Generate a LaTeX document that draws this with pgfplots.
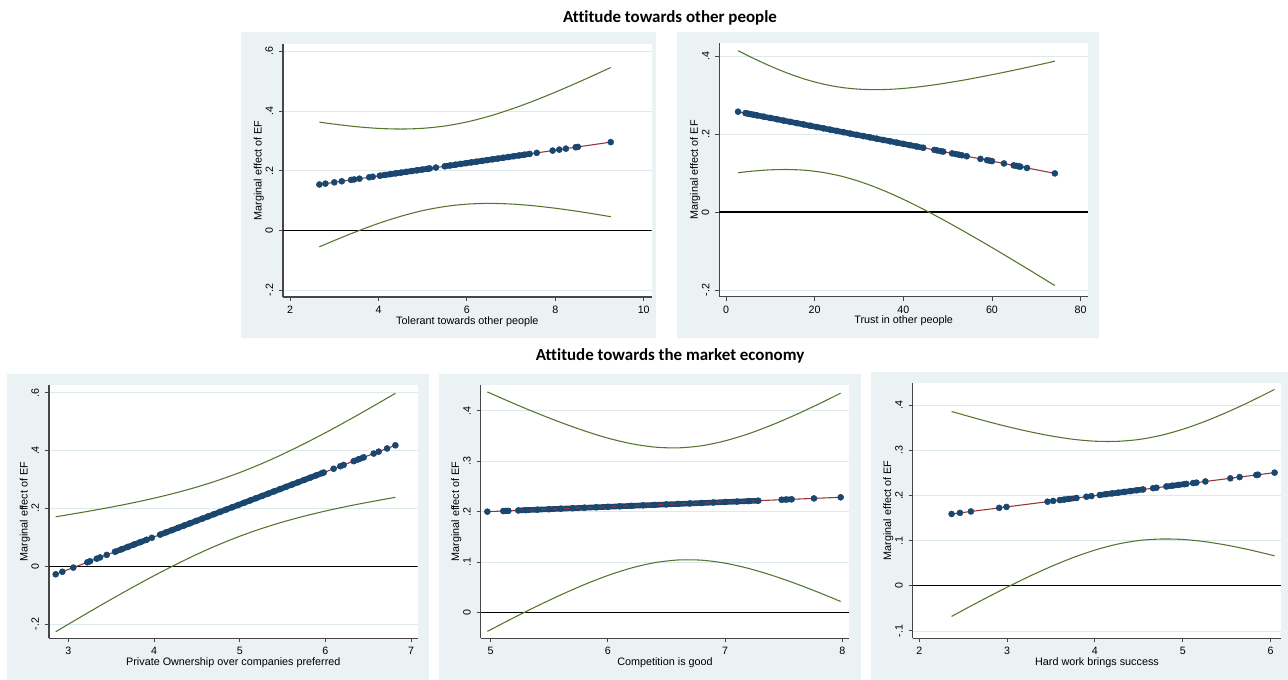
\documentclass[border=0pt]{standalone}
\usepackage{fontspec}
\setmainfont{Liberation Sans}
\newfontfamily\calibri[Ligatures={NoCommon,NoRare,NoContextual}]{Carlito}
\usepackage{pgfplots}
\pgfplotsset{compat=1.18}
\definecolor{bgc}{RGB}{234,242,243}
\definecolor{gridc}{RGB}{222,233,237}
\definecolor{navy}{RGB}{26,71,111}
\definecolor{maroon}{RGB}{150,50,58}
\definecolor{fgreen}{RGB}{85,117,47}
\definecolor{axc}{RGB}{70,70,70}
\pgfplotsset{
  stata/.style={
    scale only axis, width=276.5pt, height=190pt,
    anchor=south west,
    axis lines*=left, axis line style={-, draw=axc, line width=0.9pt},
    tick align=outside, major tick length=3pt, tick style={draw=axc, line width=0.7pt},
    axis background/.style={fill=white},
    ymajorgrids, grid style={draw=gridc, line width=0.6pt},
    /pgf/number format/assume math mode=true,
    tick label style={font=\fontsize{8}{9}\selectfont},
    xticklabel style={inner sep=0pt, anchor=north},
    yticklabel style={rotate=90, anchor=south, inner sep=0pt},
    xticklabel shift=3.5pt, yticklabel shift=4.3pt,
    xlabel style={font=\fontsize{8.1}{9}\selectfont, at={(axis description cs:0.5,-0.075)}, anchor=north, inner sep=0pt},
    ylabel style={font=\fontsize{8.1}{9}\selectfont, at={(axis description cs:-0.0515,0.5)}, anchor=south, inner sep=0pt},
    ylabel={Marginal effect of EF},
  },
  dots/.style={only marks, mark=*, mark size=2.25pt, mark options={fill=navy, draw=navy}, color=navy},
  band/.style={navy, line width=4.2pt, line cap=round, no marks},
  fit/.style={maroon, line width=0.8pt, no marks},
  ci/.style={fgreen, line width=0.8pt, no marks, smooth},
  zero/.style={black, line width=0.9pt, no marks},
}
\begin{document}
\begin{tikzpicture}
\fill[white] (0,0) rectangle (966pt,-510pt);
\path[use as bounding box] (0,0) rectangle (966pt,-510pt);
\fill[bgc] (180.75pt,-24pt) rectangle (492pt,-253.5pt);
\fill[bgc] (507.75pt,-24pt) rectangle (824pt,-253.5pt);
\fill[bgc] (5pt,-280.7pt) rectangle (321.75pt,-510pt);
\fill[bgc] (329.25pt,-280.7pt) rectangle (645.5pt,-510pt);
\fill[bgc] (653.25pt,-278.8pt) rectangle (966pt,-510pt);
\node[font=\calibri\bfseries\fontsize{12.7}{14}\selectfont, anchor=base] at (502.5pt,-17.25pt) {Attitude towards other people};
\node[font=\calibri\bfseries\fontsize{12.7}{14}\selectfont, anchor=base] at (502.5pt,-270.75pt) {Attitude towards the market economy};

% Panel 1
\begin{axis}[stata, at={(212.25pt,-222.75pt)}, xmin=1.84, xmax=10.18, ymin=-0.223, ymax=0.626,
  xtick={2,4,6,8,10}, ytick={-0.2,0,0.2,0.4,0.6}, yticklabels={-.2,0,.2,.4,.6},
  xlabel={Tolerant towards other people}]
\addplot[zero] coordinates {(1.84,0)(10.18,0)};
\addplot[ci] coordinates {(2.663,.3630)(3.0,.3563)(3.5,.3478)(4.0,.3420)(4.5,.3399)(5.0,.3423)(5.5,.3500)(6.0,.3636)(6.5,.3827)(7.0,.4064)(7.5,.4335)(8.0,.4635)(8.5,.4954)(9.0,.5288)(9.254,.5460)};
\addplot[ci] coordinates {(2.663,-.0550)(3.0,-.0337)(3.5,-.0038)(4.0,.0236)(4.5,.0473)(5.0,.0665)(5.5,.0802)(6.0,.0882)(6.5,.0907)(7.0,.0886)(7.5,.0829)(8.0,.0745)(8.5,.0642)(9.0,.0524)(9.254,.0460)};
\addplot[band] coordinates {(4.03,.1835)(5.16,.2078)};
\addplot[band] coordinates {(5.50,.2151)(7.42,.2565)};
\addplot[dots] coordinates {(2.663,.1540)(2.80,.1569)(3.00,.1613)(3.17,.1649)(3.38,.1694)(3.45,.1710)(3.57,.1735)(3.79,.1783)(3.87,.1800)(4.03,.1835)(4.15,.1860)(4.27,.1886)(4.39,.1912)(4.51,.1938)(4.63,.1964)(4.75,.1990)(4.87,.2015)(4.99,.2041)(5.11,.2067)(5.16,.2078)(5.30,.2108)(5.50,.2151)(5.62,.2177)(5.74,.2203)(5.86,.2229)(5.98,.2255)(6.10,.2281)(6.22,.2306)(6.34,.2332)(6.46,.2358)(6.58,.2384)(6.70,.2410)(6.82,.2436)(6.94,.2462)(7.06,.2487)(7.18,.2513)(7.30,.2539)(7.42,.2565)(7.58,.2600)(7.94,.2677)(8.09,.2709)(8.24,.2742)(8.46,.2789)(8.51,.2800)(9.254,.2960)};
\addplot[fit] coordinates {(2.663,.1540)(9.254,.2960)};
\end{axis}

% Panel 2
\begin{axis}[stata, at={(539.5pt,-222.5pt)}, xmin=-1.51, xmax=81.67, ymin=-0.217, ymax=0.4326,
  xtick={0,20,40,60,80}, ytick={-0.2,0,0.2,0.4}, yticklabels={-.2,0,.2,.4},
  xlabel={Trust in other people}]
\addplot[zero] coordinates {(-1.51,0)(81.67,0)};
\addplot[ci] coordinates {(2.71,.4137)(6,.3951)(10,.3742)(14,.3556)(18,.3400)(22,.3279)(26,.3196)(30,.3150)(34,.3138)(38,.3153)(42,.3191)(46,.3246)(50,.3314)(54,.3391)(58,.3477)(62,.3567)(66,.3662)(70,.3761)(74.19,.3868)};
\addplot[ci] coordinates {(2.71,.1009)(6,.1049)(10,.1082)(14,.1090)(18,.1070)(22,.1013)(26,.0920)(30,.0788)(34,.0624)(38,.0431)(42,.0217)(46,-.0016)(50,-.0260)(54,-.0515)(58,-.0777)(62,-.1045)(66,-.1318)(70,-.1593)(74.19,-.1886)};
\addplot[band] coordinates {(4.4,.2536)(44.5,.1648)};
\addplot[dots] coordinates {(2.71,.2573)(4.4,.2536)(5.0,.2522)(5.6,.2509)(6.3,.2494)(7.0,.2478)(8.5,.2445)(10,.2412)(11.5,.2379)(13,.2345)(14.5,.2312)(16,.2279)(17.5,.2246)(19,.2213)(20.5,.2179)(22,.2146)(23.5,.2113)(25,.2080)(26.5,.2047)(28,.2013)(29.5,.1980)(31,.1947)(32.5,.1914)(34,.1881)(35.5,.1847)(37,.1814)(38.5,.1781)(40,.1748)(41.5,.1715)(43,.1681)(44.5,.1648)(47.0,.1593)(47.6,.1580)(48.4,.1562)(49.0,.1549)(51.0,.1504)(51.8,.1487)(52.5,.1471)(53.2,.1456)(54.3,.1431)(57.4,.1363)(58.9,.1330)(59.5,.1316)(60.0,.1305)(62.7,.1245)(64.9,.1197)(65.5,.1183)(66.0,.1172)(66.4,.1164)(67.9,.1130)(74.19,.0991)};
\addplot[fit] coordinates {(2.71,.2573)(74.19,.0991)};
\end{axis}

% Panel 3
\begin{axis}[stata, at={(36.75pt,-478.7pt)}, xmin=2.774, xmax=7.077, ymin=-0.2483, ymax=0.6266,
  xtick={3,4,5,6,7}, ytick={-0.2,0,0.2,0.4,0.6}, yticklabels={-.2,0,.2,.4,.6},
  xlabel={Private Ownership over companies preferred}]
\addplot[zero] coordinates {(2.774,0)(7.077,0)};
\addplot[ci] coordinates {(2.852,.1713)(3.0,.1784)(3.25,.1912)(3.5,.2047)(3.75,.2193)(4.0,.2355)(4.25,.2536)(4.5,.2740)(4.75,.2975)(5.0,.3240)(5.25,.3539)(5.5,.3871)(5.75,.4232)(6.0,.4615)(6.25,.5017)(6.5,.5433)(6.817,.5977)};
\addplot[ci] coordinates {(2.852,-.2259)(3.0,-.1998)(3.25,-.1564)(3.5,-.1137)(3.75,-.0723)(4.0,-.0323)(4.25,.0058)(4.5,.0416)(4.75,.0745)(5.0,.1040)(5.25,.1301)(5.5,.1531)(5.75,.1732)(6.0,.1911)(6.25,.2071)(6.5,.2215)(6.817,.2385)};
\addplot[band] coordinates {(3.545,.0505)(3.915,.0921)};
\addplot[band] coordinates {(4.071,.1096)(5.98,.3240)};
\addplot[band] coordinates {(6.33,.3634)(6.447,.3765)};
\addplot[dots] coordinates {(2.852,-.0273)(2.930,-.0186)(3.058,-.0042)(3.222,.0142)(3.253,.0177)(3.331,.0265)(3.370,.0309)(3.448,.0396)(3.545,.0505)(3.619,.0588)(3.693,.0671)(3.767,.0754)(3.841,.0838)(3.915,.0921)(3.974,.0987)(4.071,.1096)(4.141,.1175)(4.211,.1253)(4.281,.1332)(4.351,.1411)(4.421,.1489)(4.491,.1568)(4.561,.1646)(4.631,.1725)(4.701,.1804)(4.771,.1882)(4.841,.1961)(4.911,.2040)(4.981,.2118)(5.051,.2197)(5.121,.2275)(5.191,.2354)(5.261,.2433)(5.331,.2511)(5.401,.2590)(5.471,.2669)(5.541,.2747)(5.611,.2826)(5.681,.2904)(5.751,.2983)(5.821,.3062)(5.891,.3140)(5.961,.3219)(5.98,.3240)(6.096,.3371)(6.174,.3458)(6.213,.3502)(6.33,.3634)(6.389,.3700)(6.447,.3765)(6.564,.3896)(6.622,.3962)(6.72,.4072)(6.817,.4181)};
\addplot[fit] coordinates {(2.852,-.0273)(6.817,.4181)};
\end{axis}

% Panel 4
\begin{axis}[stata, at={(360.5pt,-478.7pt)}, xmin=4.915, xmax=8.06, ymin=-0.0507, ymax=0.4509,
  xtick={5,6,7,8}, ytick={0,0.1,0.2,0.3,0.4}, yticklabels={0,.1,.2,.3,.4},
  xlabel={Competition is good}]
\addplot[zero] coordinates {(4.915,0)(8.06,0)};
\addplot[ci] coordinates {(4.972,.4370)(5.2,.4139)(5.4,.3946)(5.6,.3765)(5.8,.3600)(6.0,.3456)(6.2,.3346)(6.4,.3278)(6.6,.3263)(6.8,.3305)(7.0,.3402)(7.2,.3542)(7.4,.3717)(7.6,.3916)(7.8,.4133)(7.986,.4346)};
\addplot[ci] coordinates {(4.972,-.0370)(5.2,-.0097)(5.4,.0134)(5.6,.0353)(5.8,.0556)(6.0,.0736)(6.2,.0884)(6.4,.0990)(6.6,.1043)(6.8,.1039)(7.0,.0980)(7.2,.0876)(7.4,.0739)(7.6,.0578)(7.8,.0399)(7.986,.0222)};
\addplot[band] coordinates {(5.108,.2012)(5.151,.2016)};
\addplot[band] coordinates {(5.236,.2024)(7.283,.2217)};
\addplot[band] coordinates {(7.482,.2236)(7.568,.2244)};
\addplot[dots] coordinates {(4.972,.2000)(5.108,.2012)(5.130,.2014)(5.151,.2016)(5.236,.2024)(5.3,.2030)(5.4,.2040)(5.5,.2049)(5.6,.2059)(5.7,.2068)(5.8,.2078)(5.9,.2087)(6.0,.2096)(6.1,.2106)(6.2,.2115)(6.3,.2125)(6.4,.2134)(6.5,.2144)(6.6,.2153)(6.7,.2162)(6.8,.2172)(6.9,.2181)(7.0,.2191)(7.1,.2200)(7.2,.2209)(7.283,.2217)(7.482,.2236)(7.52,.2240)(7.568,.2244)(7.758,.2262)(7.986,.2284)};
\addplot[fit] coordinates {(4.972,.2000)(7.986,.2284)};
\end{axis}

% Panel 5
\begin{axis}[stata, at={(684.5pt,-478.7pt)}, height=191.7pt, xmin=1.925, xmax=6.122, ymin=-0.1162, ymax=0.4501,
  xtick={2,3,4,5,6}, ytick={-0.1,0,0.1,0.2,0.3,0.4}, yticklabels={-.1,0,.1,.2,.3,.4},
  xlabel={Hard work brings success}]
\addplot[zero] coordinates {(1.925,0)(6.122,0)};
\addplot[ci] coordinates {(2.368,.3862)(2.6,.3734)(2.8,.3628)(3.0,.3529)(3.25,.3417)(3.5,.3321)(3.75,.3247)(4.0,.3204)(4.25,.3201)(4.5,.3242)(4.75,.3333)(5.0,.3469)(5.25,.3641)(5.5,.3843)(5.75,.4066)(6.045,.4351)};
\addplot[ci] coordinates {(2.368,-.0678)(2.6,-.0434)(2.8,-.0230)(3.0,-.0031)(3.25,.0207)(3.5,.0427)(3.75,.0625)(4.0,.0792)(4.25,.0921)(4.5,.1004)(4.75,.1037)(5.0,.1027)(5.25,.0979)(5.5,.0901)(5.75,.0802)(6.045,.0665)};
\addplot[band] coordinates {(3.60,.1899)(3.79,.1946)};
\addplot[band] coordinates {(4.055,.2012)(4.548,.2135)};
\addplot[band] coordinates {(4.813,.2201)(5.041,.2258)};
\addplot[dots] coordinates {(2.368,.1592)(2.463,.1616)(2.588,.1647)(2.910,.1727)(2.993,.1748)(3.460,.1864)(3.524,.1880)(3.60,.1899)(3.65,.1911)(3.70,.1924)(3.79,.1946)(3.903,.1974)(3.96,.1988)(4.055,.2012)(4.125,.2030)(4.195,.2047)(4.265,.2064)(4.335,.2082)(4.405,.2099)(4.475,.2117)(4.548,.2135)(4.662,.2163)(4.70,.2173)(4.813,.2201)(4.88,.2218)(4.95,.2235)(5.02,.2253)(5.041,.2258)(5.117,.2277)(5.155,.2286)(5.257,.2312)(5.541,.2382)(5.647,.2409)(5.837,.2456)(5.856,.2461)(6.045,.2508)};
\addplot[fit] coordinates {(2.368,.1592)(6.045,.2508)};
\end{axis}
\end{tikzpicture}
\end{document}
